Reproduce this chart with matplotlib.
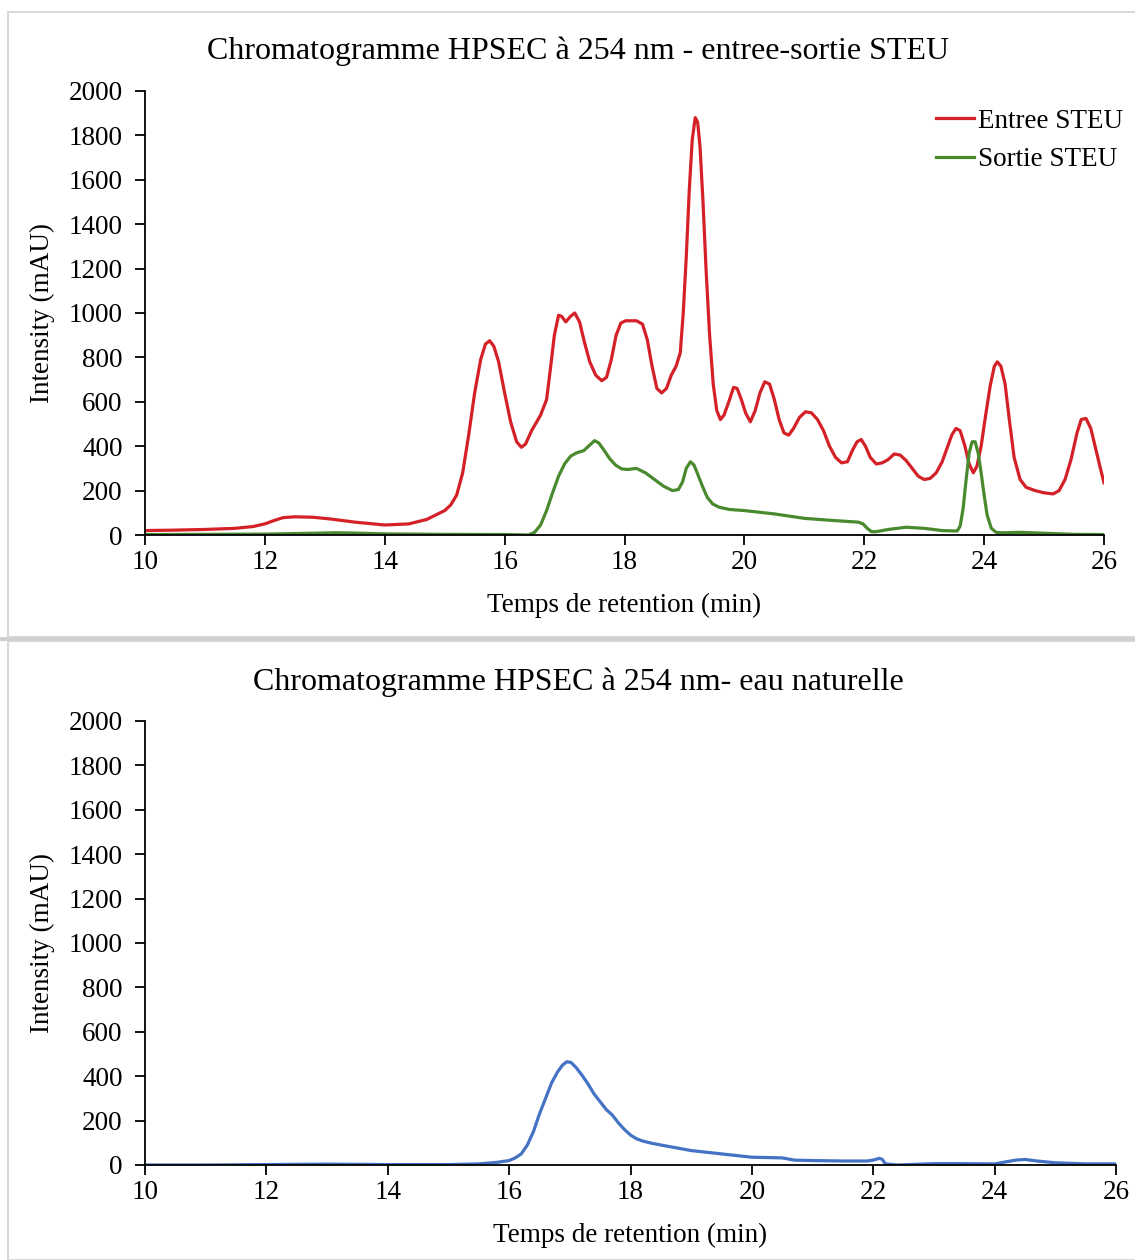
import matplotlib.pyplot as plt
from matplotlib.patches import Rectangle

plt.rcParams['font.family'] = ['Liberation Serif', 'DejaVu Serif']

# Entree STEU (red)
entree_t = [10.0, 10.5, 11.0, 11.5, 11.8, 12.0, 12.15, 12.3, 12.5, 12.8, 13.1, 13.5, 14.0, 14.4,
            14.7, 15.0, 15.1, 15.2, 15.3, 15.4, 15.5, 15.6, 15.68, 15.75, 15.82, 15.9, 16.0,
            16.1, 16.2, 16.28, 16.35, 16.45, 16.6, 16.7, 16.76, 16.83, 16.9, 16.95, 17.02,
            17.1, 17.17, 17.25, 17.33, 17.42, 17.52, 17.62, 17.7, 17.78, 17.86, 17.94, 18.02,
            18.1, 18.2, 18.3, 18.38, 18.46, 18.54, 18.62, 18.7, 18.78, 18.86, 18.93, 18.98,
            19.03, 19.08, 19.13, 19.18, 19.22, 19.26, 19.31, 19.36, 19.42, 19.48, 19.54, 19.6,
            19.66, 19.74, 19.82, 19.88, 19.95, 20.02, 20.1, 20.18, 20.26, 20.34, 20.42, 20.5,
            20.58, 20.66, 20.74, 20.82, 20.92, 21.02, 21.12, 21.22, 21.32, 21.42, 21.52, 21.62,
            21.72, 21.8, 21.88, 21.95, 22.02, 22.1, 22.2, 22.3, 22.4, 22.5, 22.6, 22.7, 22.8,
            22.9, 23.0, 23.1, 23.2, 23.3, 23.38, 23.46, 23.53, 23.6, 23.68, 23.75, 23.82,
            23.88, 23.95, 24.02, 24.1, 24.17, 24.22, 24.28, 24.35, 24.42, 24.5, 24.6, 24.7,
            24.85, 25.0, 25.15, 25.25, 25.35, 25.45, 25.55, 25.62, 25.7, 25.78, 25.86, 25.94,
            26.0]
entree_v = [20, 22, 25, 30, 38, 50, 65, 78, 82, 80, 72, 58, 45, 50,
            70, 110, 135, 180, 280, 450, 640, 790, 860, 875, 850, 780, 640,
            510, 420, 395, 410, 470, 540, 610, 740, 900, 990, 985, 960,
            985, 1000, 960, 870, 780, 720, 695, 710, 790, 900, 955, 965,
            965, 965, 950, 880, 760, 660, 640, 660, 720, 760, 820, 1000,
            1250, 1550, 1780, 1880, 1860, 1750, 1500, 1200, 900, 680, 560, 520,
            540, 600, 665, 660, 610, 550, 510, 560, 640, 690, 680, 610,
            520, 460, 450, 480, 530, 555, 550, 520, 470, 400, 350, 325,
            330, 380, 420, 430, 400, 350, 320, 325, 340, 365, 360, 335, 300,
            265, 250, 255, 280, 330, 390, 450, 480, 470, 400, 320, 280,
            310, 400, 530, 670, 760, 780, 760, 680, 520, 350, 250, 215,
            200, 190, 185, 200, 250, 340, 460, 520, 525, 480, 390, 300,
            235]

# Sortie STEU (green)
sortie_t = [10.0, 11.0, 12.0, 12.8, 13.2, 13.6, 14.0, 15.0, 16.0, 16.4, 16.5, 16.6, 16.7,
            16.8, 16.9, 17.0, 17.1, 17.2, 17.32, 17.42, 17.5, 17.57, 17.65, 17.75, 17.85, 17.95,
            18.05, 18.2, 18.35, 18.5, 18.65, 18.8, 18.9, 18.97, 19.03, 19.1, 19.16, 19.22, 19.3,
            19.38, 19.47, 19.58, 19.75, 20.0, 20.5, 21.0, 21.5, 21.9, 21.98, 22.05, 22.12, 22.2,
            22.4, 22.7, 23.0, 23.3, 23.55, 23.6, 23.65, 23.7, 23.75, 23.8, 23.85, 23.9, 23.95,
            24.0, 24.05, 24.12, 24.2, 24.3, 24.6, 25.0, 25.5, 26.0]
sortie_v = [2, 3, 4, 8, 10, 8, 5, 3, 2, 0, 12, 45, 110,
            190, 265, 320, 355, 370, 380, 405, 425, 415, 385, 345, 315, 298,
            295, 300, 280, 250, 220, 200, 205, 240, 300, 330, 315, 275, 220,
            170, 140, 125, 115, 110, 95, 75, 65, 58, 50, 30, 15,
            15, 25, 35, 30, 20, 18, 40, 120, 250, 370, 420, 420, 370, 280,
            180, 90, 30, 12, 10, 12, 8, 3, 2]

# Eau naturelle (blue)
eau_t = [10.0, 11.0, 12.0, 13.0, 14.0, 15.0, 15.5, 15.8, 16.0, 16.1, 16.2, 16.3, 16.4, 16.5,
         16.6, 16.7, 16.8, 16.88, 16.95, 17.02, 17.1, 17.2, 17.3, 17.4, 17.5, 17.6, 17.7,
         17.8, 17.9, 18.0, 18.1, 18.2, 18.35, 18.5, 18.8, 19.0, 19.5, 20.0, 20.5, 20.7,
         21.0, 21.5, 21.9, 22.0, 22.1, 22.15, 22.2, 22.4, 23.0, 23.5, 24.0, 24.2, 24.35,
         24.5, 24.7, 25.0, 25.5, 26.0]
eau_v = [0, 0, 2, 4, 2, 2, 5, 12, 20, 32, 50, 90, 150, 230,
         300, 370, 420, 450, 465, 462, 440, 405, 365, 320, 285, 250, 225,
         190, 160, 135, 118, 108, 98, 90, 75, 65, 50, 35, 32, 22,
         20, 18, 18, 22, 30, 25, 5, 0, 6, 6, 5, 15, 22,
         25, 18, 10, 5, 5]

W, H = 1135, 1260
fig = plt.figure(figsize=(W / 100, H / 100), dpi=100)

# panel frames
fig.patches.append(Rectangle((8 / W, 1 - 637 / H), 1.0, 625 / H, transform=fig.transFigure,
                             fill=False, edgecolor='#d9d9d9', lw=1.5))
fig.patches.append(Rectangle((8 / W, 0), 1.0, 1 - 641 / H, transform=fig.transFigure,
                             fill=False, edgecolor='#d9d9d9', lw=1.5))
fig.patches.append(Rectangle((0, 1 - 641 / H), 1.0, 4 / H, transform=fig.transFigure,
                             color='#d0d0d0', lw=0))


def style_axis(ax):
    ax.set_xlim(10, 26)
    ax.set_ylim(0, 2000)
    ax.set_xticks(range(10, 27, 2))
    ax.set_yticks(range(0, 2001, 200))
    for s in ['top', 'right']:
        ax.spines[s].set_visible(False)
    for s in ['left', 'bottom']:
        ax.spines[s].set_linewidth(1.3)
    ax.tick_params(direction='out', length=7, width=1.3, labelsize=19.5)
    ax.tick_params(axis='y', pad=9)
    ax.tick_params(axis='x', pad=4)
    ax.set_xlabel('Temps de retention (min)', fontsize=19.5, labelpad=13)
    ax.set_ylabel('Intensity (mAU)', fontsize=19.5, labelpad=10)


ax1 = fig.add_axes([145 / W, 1 - 535 / H, (1104 - 145) / W, 444 / H])
ax1.plot(entree_t, entree_v, color='#d42027', lw=2.3, label='Entree STEU')
ax1.plot(sortie_t, sortie_v, color='#4a8a2f', lw=2.3, label='Sortie STEU')
style_axis(ax1)
ax1.set_title('Chromatogramme HPSEC à 254 nm - entree-sortie STEU', fontsize=23, pad=23,
              x=(578 - 145) / (1104 - 145))
ax1.legend(loc='upper right', bbox_to_anchor=(1.045, 1.015), frameon=False, fontsize=19.5,
           handlelength=1.4, handletextpad=0.15, labelspacing=0.5)

ax2 = fig.add_axes([145 / W, 1 - 1165 / H, (1116 - 145) / W, 444 / H])
ax2.plot(eau_t, eau_v, color='#4472c4', lw=2.3)
style_axis(ax2)
ax2.set_title('Chromatogramme HPSEC à 254 nm- eau naturelle', fontsize=23, pad=22,
              x=(578 - 145) / (1116 - 145))

fig.savefig('out.png', dpi=100)
